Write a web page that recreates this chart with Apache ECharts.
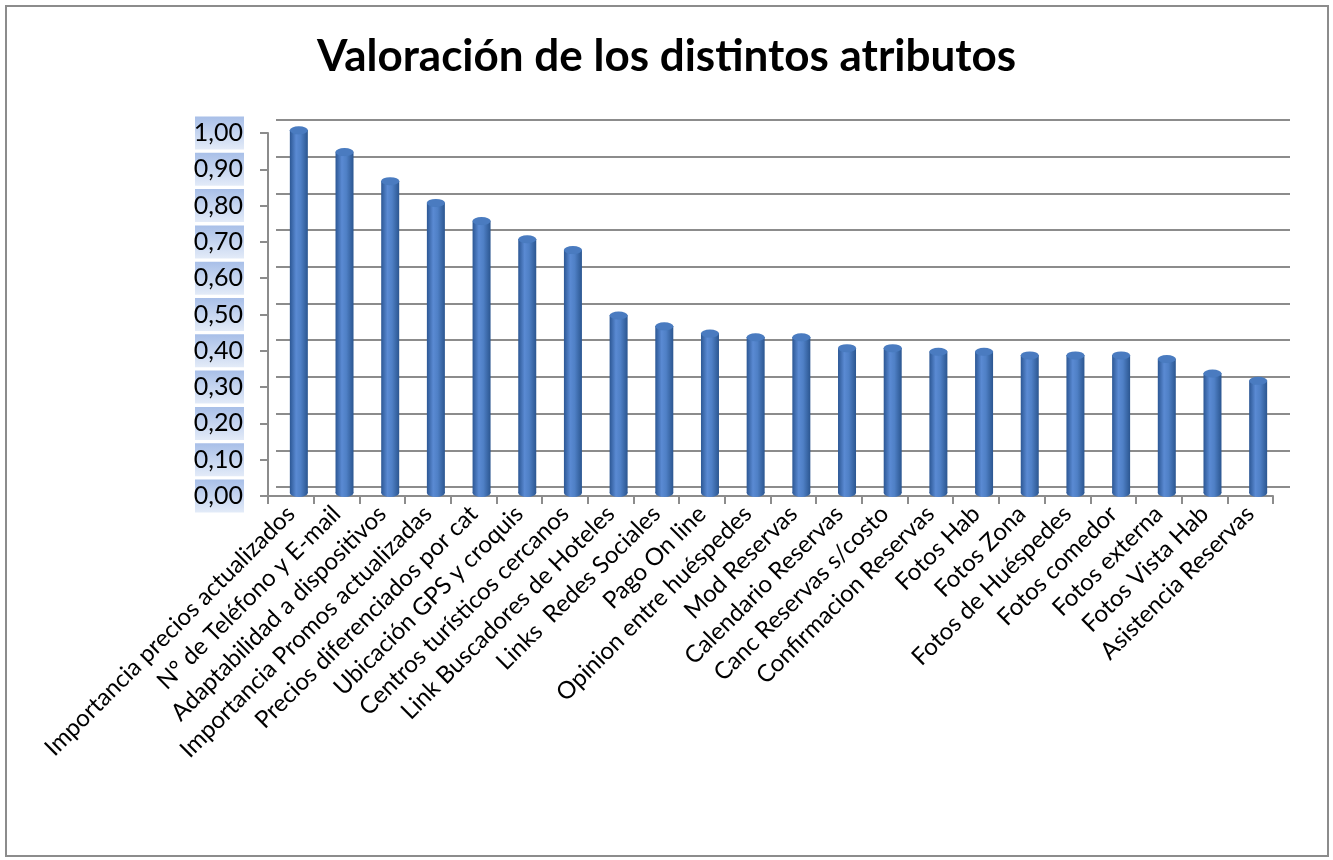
<!DOCTYPE html>
<html>
<head>
<meta charset="utf-8">
<script src="https://cdn.jsdelivr.net/npm/echarts@6/dist/echarts.min.js"></script>
<style>
html,body{margin:0;padding:0;background:#fff;}
#c{width:1333px;height:860px;position:relative;}
#frame{position:absolute;left:5px;top:5px;width:1320px;height:848px;border:2px solid #8c8c8c;pointer-events:none;}
</style>
</head>
<body>
<div id="c"></div>
<div id="frame"></div>
<script>
const titleText = 'Valoración de los distintos atributos';
const categories = [
  'Importancia precios actualizados',
  'N° de Teléfono y E-mail',
  'Adaptabilidad a dispositivos',
  'Importancia Promos actualizadas',
  'Precios diferenciados por cat',
  'Ubicación GPS y croquis',
  'Centros turísticos cercanos',
  'Link Buscadores de Hoteles',
  'Links  Redes Sociales',
  'Pago On line',
  'Opinion entre huéspedes',
  'Mod Reservas',
  'Calendario Reservas',
  'Canc Reservas s/costo',
  'Confirmacion Reservas',
  'Fotos Hab',
  'Fotos Zona',
  'Fotos de Huéspedes',
  'Fotos comedor',
  'Fotos externa',
  'Fotos Vista Hab',
  'Asistencia Reservas'
];
const values = [1.00, 0.94, 0.86, 0.80, 0.75, 0.70, 0.67, 0.49, 0.46, 0.44, 0.43, 0.43,
  0.40, 0.40, 0.39, 0.39, 0.38, 0.38, 0.38, 0.37, 0.33, 0.31];
const yMin = 0, yMax = 1, yStep = 0.1;

const chart = echarts.init(document.getElementById('c'));
const FONT = 'Lato, "Open Sans", sans-serif';
const grayLine = '#8c8c8c';
const barFill = new echarts.graphic.LinearGradient(0, 0, 1, 0, [
  {offset: 0, color: '#2c5794'},
  {offset: 0.35, color: '#5a8ad3'},
  {offset: 0.6, color: '#4f80c6'},
  {offset: 1, color: '#2b5690'}
]);
const labelBg = new echarts.graphic.LinearGradient(0, 0, 0, 1, [
  {offset: 0, color: '#a8bfe8'},
  {offset: 1, color: '#e3ebf8'}
]);
const fmt = v => v.toFixed(2).replace('.', ',');

chart.setOption({
  animation: false,
  title: {
    text: titleText, left: 'center', top: 30,
    textStyle: {fontFamily: FONT, fontSize: 44, fontWeight: 'bold', color: '#000'}
  },
  grid: [
    {left: 276, right: 43, top: 120, bottom: 373},
    {left: 268, right: 60, top: 133, bottom: 364},
    {left: 276, right: 52, top: 130, bottom: 367}
  ],
  xAxis: [
    {gridIndex: 0, type: 'category', data: categories, show: false},
    {gridIndex: 1, type: 'category', data: categories,
      axisLine: {show: true, lineStyle: {color: grayLine, width: 2}},
      axisTick: {show: true, length: 8, lineStyle: {color: grayLine, width: 2}},
      axisLabel: {rotate: 45, interval: 0, margin: 14, fontFamily: FONT, fontSize: 24, color: '#000'}
    },
    {gridIndex: 2, type: 'category', data: categories, show: false}
  ],
  yAxis: [
    {gridIndex: 0, type: 'value', min: yMin, max: yMax, interval: yStep,
      axisLine: {show: false}, axisTick: {show: false}, axisLabel: {show: false},
      splitLine: {show: true, lineStyle: {color: grayLine, width: 2}}
    },
    {gridIndex: 1, type: 'value', min: yMin, max: yMax, interval: yStep,
      axisLine: {show: true, lineStyle: {color: grayLine, width: 2}},
      axisTick: {show: true, length: 8, lineStyle: {color: grayLine, width: 2}},
      splitLine: {show: false},
      axisLabel: {
        formatter: fmt, margin: 24, fontFamily: FONT, fontSize: 25, color: '#000',
        backgroundColor: labelBg, padding: [2, 1, 2, 2], width: 46, align: 'right',
        lineHeight: 29
      }
    },
    {gridIndex: 2, type: 'value', min: yMin, max: yMax, interval: yStep, show: false, splitLine: {show: false}}
  ],
  series: [
    {
      type: 'bar', xAxisIndex: 2, yAxisIndex: 2, data: values, barWidth: 18,
      itemStyle: {color: barFill}, z: 2
    },
    {
      type: 'pictorialBar', xAxisIndex: 2, yAxisIndex: 2, data: values,
      symbol: 'circle', symbolSize: [18, 8], symbolPosition: 'start', symbolOffset: [0, '50%'],
      itemStyle: {color: barFill}, z: 1
    },
    {
      type: 'pictorialBar', xAxisIndex: 2, yAxisIndex: 2, data: values,
      symbol: 'circle', symbolSize: [18, 8], symbolPosition: 'end', symbolOffset: [0, '-50%'],
      itemStyle: {color: '#4a7bc0', borderColor: '#3563a3', borderWidth: 1}, z: 3
    }
  ]
});
</script>
</body>
</html>
